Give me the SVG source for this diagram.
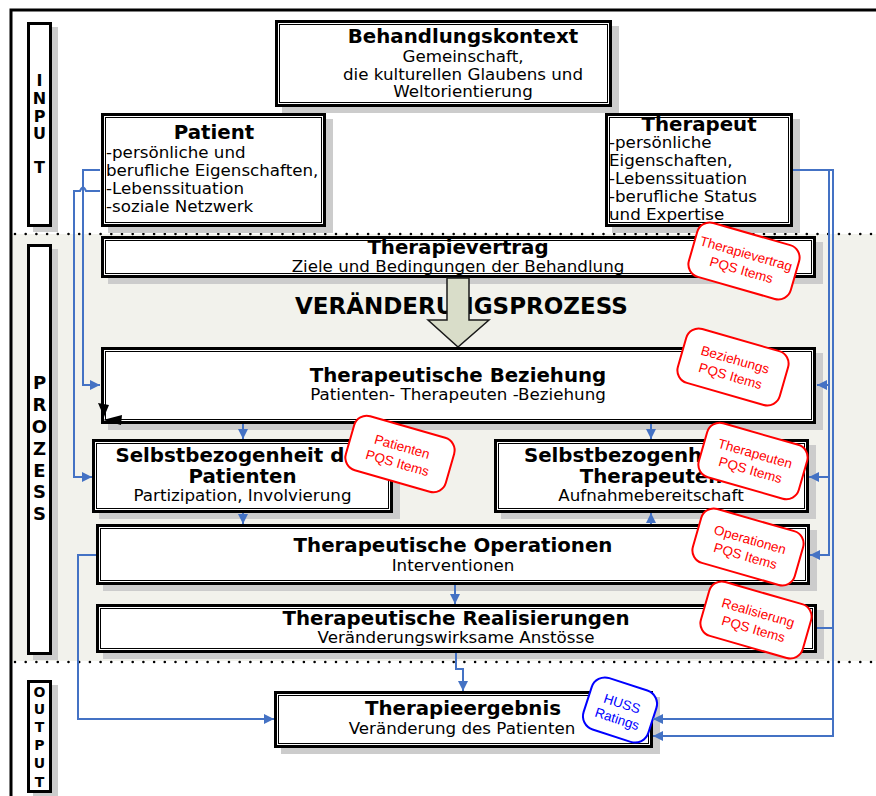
<svg xmlns="http://www.w3.org/2000/svg" width="876" height="796" viewBox="0 0 876 796">
<defs>
<style>
.sh{fill:#cccccc}
.bo{fill:#fff;stroke:#000;stroke-width:3}
.bi{fill:none;stroke:#000;stroke-width:1}
.c{font-family:"DejaVu Sans",Verdana,sans-serif;font-size:16.7px;text-anchor:middle;fill:#000}
.b{font-weight:bold;font-size:19.8px}
.st{text-anchor:start}
.lab{font-family:"DejaVu Sans",Verdana,sans-serif;font-weight:bold;text-anchor:middle;fill:#000}
.con{fill:none;stroke:#4472c4;stroke-width:2}
.pqs{fill:#fff;stroke:#ff0000;stroke-width:2}
.pt{font-family:"Liberation Sans",Arial,sans-serif;font-size:13.5px;fill:#ff0000;text-anchor:middle}
.dot{stroke:#000;stroke-width:2.6;stroke-dasharray:0 10.7;stroke-linecap:round}
</style>
<marker id="ah" viewBox="0 0 10 10" refX="10" refY="5" markerWidth="10" markerHeight="10" markerUnits="userSpaceOnUse" orient="auto">
<path d="M0,0 L10,5 L0,10 z" fill="#4472c4"/>
</marker>
</defs>

<g id="background">
<rect x="12" y="234" width="864" height="427" fill="#f2f2ec"/>
<line class="dot" x1="15" y1="234" x2="876" y2="234"/>
<line class="dot" x1="15" y1="662" x2="876" y2="662"/>
<path d="M11,796 V10 H876" fill="none" stroke="#000" stroke-width="3"/>
</g>

<g id="label-input">
<rect class="sh" x="33" y="27" width="25" height="205"/>
<rect class="bo" x="28.5" y="23.5" width="22" height="202"/>
<text class="lab" style="font-size:16px"><tspan x="39.5" y="86">I</tspan><tspan x="39.5" y="104">N</tspan><tspan x="39.5" y="122">P</tspan><tspan x="39.5" y="139">U</tspan><tspan x="39.5" y="173">T</tspan></text>
</g>

<g id="label-prozess">
<rect class="sh" x="33" y="249" width="25" height="411"/>
<rect class="bo" x="28.5" y="245.5" width="22" height="408"/>
<text class="lab" style="font-size:18px"><tspan x="39.5" y="389">P</tspan><tspan x="39.5" y="411">R</tspan><tspan x="39.5" y="433">O</tspan><tspan x="39.5" y="455">Z</tspan><tspan x="39.5" y="477">E</tspan><tspan x="39.5" y="498">S</tspan><tspan x="39.5" y="520">S</tspan></text>
</g>

<g id="label-output">
<rect class="sh" x="33" y="685" width="25" height="113"/>
<rect class="bo" x="28.5" y="681.5" width="22" height="110"/>
<text class="lab" style="font-size:14px"><tspan x="39.5" y="697">O</tspan><tspan x="39.5" y="714">U</tspan><tspan x="39.5" y="732">T</tspan><tspan x="39.5" y="750">P</tspan><tspan x="39.5" y="768">U</tspan><tspan x="39.5" y="787">T</tspan></text>
</g>

<g id="behandlungskontext">
<rect class="sh" x="282" y="26" width="337" height="87"/>
<rect class="bo" x="276.5" y="21.5" width="334" height="84"/>
<rect class="bi" x="279.5" y="24.5" width="328" height="78"/>
<text class="c"><tspan class="b" x="463" y="43">Behandlungskontext</tspan><tspan x="463" y="62">Gemeinschaft,</tspan><tspan x="463" y="80">die kulturellen Glaubens und</tspan><tspan x="463" y="97">Weltorientierung</tspan></text>
</g>

<g id="patient">
<rect class="sh" x="108" y="119" width="225" height="114"/>
<rect class="bo" x="102.5" y="114.5" width="222" height="111"/>
<rect class="bi" x="105.5" y="117.5" width="216" height="105"/>
<text class="c"><tspan class="b" x="214" y="139">Patient</tspan><tspan class="st" x="106" y="158">-persönliche und</tspan><tspan class="st" x="106" y="176">berufliche Eigenschaften,</tspan><tspan class="st" x="106" y="194">-Lebenssituation</tspan><tspan class="st" x="106" y="212">-soziale Netzwerk</tspan></text>
</g>

<g id="therapeut">
<rect class="sh" x="612" y="119" width="188" height="114"/>
<rect class="bo" x="606.5" y="114.5" width="185" height="111"/>
<rect class="bi" x="609.5" y="117.5" width="179" height="105"/>
<text class="c"><tspan class="b" x="699" y="131">Therapeut</tspan><tspan class="st" x="609" y="148">-persönliche</tspan><tspan class="st" x="609" y="166">Eigenschaften,</tspan><tspan class="st" x="609" y="184">-Lebenssituation</tspan><tspan class="st" x="609" y="202">-berufliche Status</tspan><tspan class="st" x="609" y="220">und Expertise</tspan></text>
</g>

<g id="therapievertrag">
<rect class="sh" x="108" y="242" width="715" height="42"/>
<rect class="bo" x="102.5" y="237.5" width="712" height="39"/>
<rect class="bi" x="105.5" y="240.5" width="706" height="33"/>
<text class="c"><tspan class="b" x="458" y="254">Therapievertrag</tspan><tspan x="458" y="272">Ziele und Bedingungen der Behandlung</tspan></text>
</g>

<g id="veraenderungsprozess">
<text class="lab" x="295" y="314" style="text-anchor:start;font-size:23px">VERÄNDERUNGSPROZESS</text>
<path d="M447,278 H469 V320 H489 L458,347 L428,320 H447 Z" fill="#d9ddc9" stroke="#1a1a1a" stroke-width="1.5"/>
</g>

<g id="beziehung">
<rect class="sh" x="108" y="353" width="715" height="77"/>
<rect class="bo" x="102.5" y="348.5" width="712" height="74"/>
<rect class="bi" x="105.5" y="351.5" width="706" height="68"/>
<text class="c"><tspan class="b" x="458" y="382">Therapeutische Beziehung</tspan><tspan x="458" y="400">Patienten- Therapeuten -Beziehung</tspan></text>
<path d="M98,403 L109,405 L104,417 Z" fill="#000"/>
<path d="M103,420 L122,415 L121,425 Z" fill="#000"/>
</g>

<g id="selbst-patient">
<rect class="sh" x="99" y="445" width="301" height="74"/>
<rect class="bo" x="93.5" y="440.5" width="298" height="71"/>
<rect class="bi" x="96.5" y="443.5" width="292" height="65"/>
<text class="c"><tspan class="b" x="242.5" y="462">Selbstbezogenheit des</tspan><tspan class="b" x="242.5" y="483">Patienten</tspan><tspan x="242.5" y="501">Partizipation, Involvierung</tspan></text>
</g>

<g id="selbst-therapeut">
<rect class="sh" x="501" y="445" width="315" height="74"/>
<rect class="bo" x="495.5" y="440.5" width="312" height="71"/>
<rect class="bi" x="498.5" y="443.5" width="306" height="65"/>
<text class="c"><tspan class="b" x="651" y="462">Selbstbezogenheit des</tspan><tspan class="b" x="651" y="483">Therapeuten</tspan><tspan x="651" y="501">Aufnahmebereitschaft</tspan></text>
</g>

<g id="operationen">
<rect class="sh" x="103" y="530" width="714" height="61"/>
<rect class="bo" x="97.5" y="525.5" width="711" height="58"/>
<rect class="bi" x="100.5" y="528.5" width="705" height="52"/>
<text class="c"><tspan class="b" x="453" y="552">Therapeutische Operationen</tspan><tspan x="453" y="571">Interventionen</tspan></text>
</g>

<g id="realisierungen">
<rect class="sh" x="103" y="610" width="721" height="49"/>
<rect class="bo" x="97.5" y="605.5" width="718" height="46"/>
<rect class="bi" x="100.5" y="608.5" width="712" height="40"/>
<text class="c"><tspan class="b" x="456" y="625">Therapeutische Realisierungen</tspan><tspan x="456" y="643">Veränderungswirksame Anstösse</tspan></text>
</g>

<g id="ergebnis">
<rect class="sh" x="281" y="697" width="379" height="57"/>
<rect class="bo" x="275.5" y="692.5" width="376" height="54"/>
<rect class="bi" x="278.5" y="695.5" width="370" height="48"/>
<text class="c"><tspan class="b" x="463" y="715">Therapieergebnis</tspan><tspan x="462" y="734">Veränderung des Patienten</tspan></text>
</g>

<g id="pqs-vertrag" transform="translate(744,261) rotate(16)">
<rect class="pqs" x="-53" y="-28" width="106" height="56" rx="13"/>
<text class="pt"><tspan x="0" y="-3">Therapievertrag</tspan><tspan x="0" y="14">PQS Items</tspan></text>
</g>
<g id="pqs-beziehung" transform="translate(733,367) rotate(16)">
<rect class="pqs" x="-53" y="-28" width="106" height="56" rx="13"/>
<text class="pt"><tspan x="0" y="-3">Beziehungs</tspan><tspan x="0" y="14">PQS Items</tspan></text>
</g>
<g id="pqs-patienten" transform="translate(400,454) rotate(16)">
<rect class="pqs" x="-52" y="-28" width="104" height="56" rx="13"/>
<text class="pt"><tspan x="0" y="-3">Patienten</tspan><tspan x="0" y="14">PQS Items</tspan></text>
</g>
<g id="pqs-therapeuten" transform="translate(753,461) rotate(16)">
<rect class="pqs" x="-52" y="-28" width="104" height="56" rx="13"/>
<text class="pt"><tspan x="0" y="-3">Therapeuten</tspan><tspan x="0" y="14">PQS Items</tspan></text>
</g>
<g id="pqs-operationen" transform="translate(748,547) rotate(16)">
<rect class="pqs" x="-53" y="-28" width="106" height="56" rx="13"/>
<text class="pt"><tspan x="0" y="-3">Operationen</tspan><tspan x="0" y="14">PQS Items</tspan></text>
</g>
<g id="pqs-realisierung" transform="translate(756,620) rotate(16)">
<rect class="pqs" x="-53" y="-28" width="106" height="56" rx="13"/>
<text class="pt"><tspan x="0" y="-3">Realisierung</tspan><tspan x="0" y="14">PQS Items</tspan></text>
</g>
<g id="huss" transform="translate(620,710) rotate(18)">
<rect x="-34" y="-27" width="68" height="54" rx="14" fill="#fff" stroke="#0000ff" stroke-width="2"/>
<text class="pt" style="fill:#0000ff"><tspan x="0" y="-2">HUSS</tspan><tspan x="0" y="14">Ratings</tspan></text>
</g>

<g id="connectors">
<path class="con" d="M100,170 H83 V385 H100" marker-end="url(#ah)"/>
<path class="con" d="M100,191 H86 Q83,184 80,191 H74 V477 H92" marker-end="url(#ah)"/>
<path class="con" d="M96,555 H78 V719 H274" marker-end="url(#ah)"/>
<path class="con" d="M793,170 H833 V736 H653" marker-end="url(#ah)"/>
<path class="con" d="M829,170 V555 H810" marker-end="url(#ah)"/>
<path class="con" d="M829,385 H817" marker-end="url(#ah)"/>
<path class="con" d="M829,477 H809" marker-end="url(#ah)"/>
<path class="con" d="M817,628 H833"/>
<path class="con" d="M833,719 H653" marker-end="url(#ah)"/>
<path class="con" d="M243,424 V439" marker-end="url(#ah)"/>
<path class="con" d="M651,424 V439" marker-end="url(#ah)"/>
<path class="con" d="M243,513 V524" marker-end="url(#ah)"/>
<path class="con" d="M651,524 V513" marker-end="url(#ah)"/>
<path class="con" d="M455,585 V604" marker-end="url(#ah)"/>
<path class="con" d="M456,653 V669 H463 V691" marker-end="url(#ah)"/>
</g>
</svg>
